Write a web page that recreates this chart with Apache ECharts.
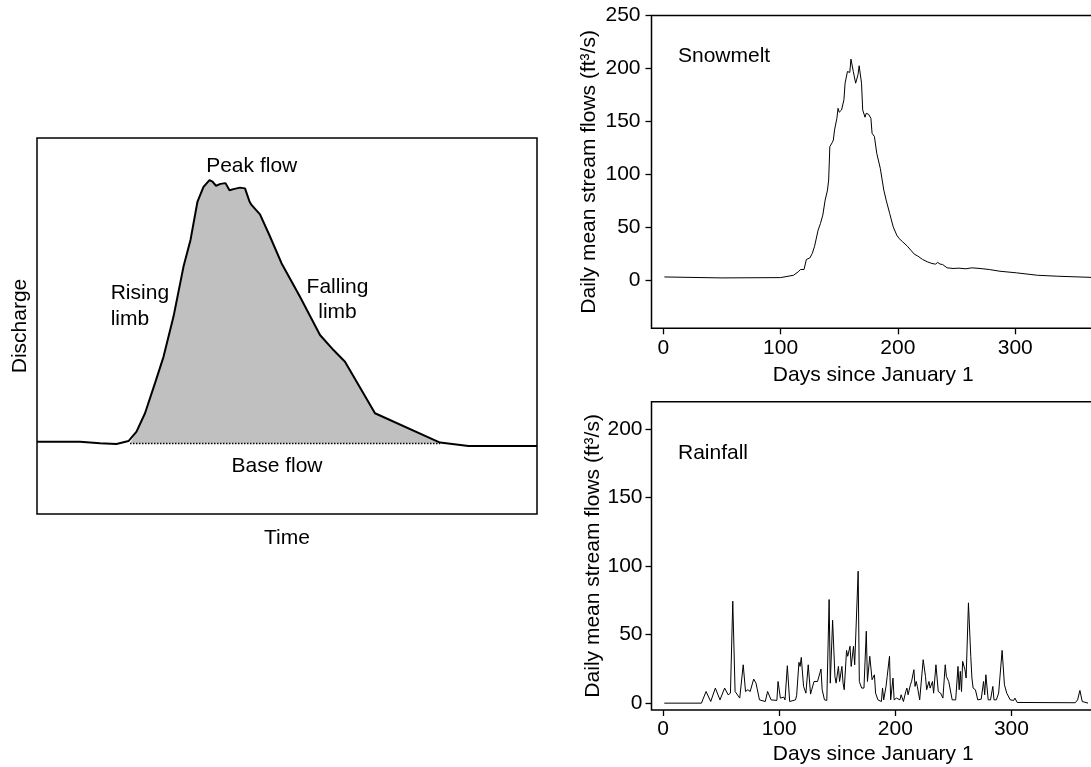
<!DOCTYPE html>
<html>
<head>
<meta charset="utf-8">
<script src="https://cdn.jsdelivr.net/npm/echarts@6.0.0/dist/echarts.min.js"></script>
<style>
  html, body { margin: 0; padding: 0; background: #fff; }
  #chart { width: 1091px; height: 767px; }
</style>
</head>
<body>
<div id="chart"></div>
<script>
// schematic hydrograph (arbitrary units, 0-100 on both axes)
const hydroTime = [0, 8.6, 12.6, 15.9, 18.3, 19.9, 21.6, 23.6, 25.3, 27.3, 29.3, 30.7, 32.1, 33.3, 34.5, 35.1, 35.8, 36.7, 37.7, 38.5, 39.3, 40.6, 41.6, 42.5, 42.9, 44.6, 46.6, 48.9, 52.6, 56.6, 59.3, 61.6, 67.6, 80.6, 86.3, 100]
const hydroDischarge = [19.2, 19.2, 18.8, 18.6, 19.4, 21.9, 26.8, 34.8, 41.8, 52.5, 65.8, 72.9, 83.1, 87.0, 88.8, 88.4, 87.3, 87.8, 88.0, 86.1, 86.4, 86.8, 86.6, 83.1, 82.2, 79.7, 73.8, 66.7, 57.8, 47.6, 43.6, 40.5, 26.8, 19.0, 18.1, 18.1]
const baseFlowTime = [18.6, 80.6]
const baseFlowLevel = 18.75

// snowmelt-driven stream
const snowDays = [1, 50, 100, 111, 115, 117, 120, 122, 125, 127, 129, 132, 134, 136, 138, 140, 141, 142, 144, 145, 146, 148, 149, 150, 152, 154, 155, 157, 158, 159, 160, 161, 162, 164, 165, 166, 167, 169, 170, 172, 173, 175, 177, 178, 180, 182, 185, 188, 190, 193, 196, 199, 201, 204, 208, 211, 214, 217, 221, 225, 229, 232, 234, 236, 238, 242, 247, 252, 258, 263, 270, 278, 287, 301, 319, 336, 365]
const snowFlow = [3.4, 2.5, 2.8, 5, 8.2, 10.4, 10.4, 19.9, 21.4, 25.5, 32.4, 47.5, 53.8, 61.7, 75.9, 85.3, 94.8, 126.3, 130, 132.5, 142, 153, 162.4, 158.7, 160.9, 170.4, 186.1, 197.1, 198.7, 196.2, 208.8, 207.5, 197.1, 186.1, 187.6, 194, 202.5, 186.1, 160.9, 154, 157.7, 156.8, 153, 138.9, 135.7, 119.9, 105.8, 85.3, 75.9, 63.3, 50.7, 42.9, 39.7, 36.6, 32.5, 28.7, 24.9, 23.1, 19.9, 17.7, 16.1, 15.5, 17.1, 15.5, 15.2, 12, 11.4, 11.7, 11.1, 12, 11.4, 10.4, 8.8, 7.3, 5, 4.1, 3]

// rainfall-driven stream
const rainDays = [1, 33, 37, 41, 45, 49, 53, 56, 58, 60, 62, 66, 69, 71, 73, 75, 78, 80, 83, 88, 90, 93, 98, 99, 101, 104, 105, 107, 109, 114, 115, 117, 118, 119, 121, 123, 125, 127, 128, 130, 133, 134, 135, 136, 137, 139, 141, 143, 144, 146, 148, 149, 151, 152, 154, 155, 156, 158, 159, 161, 162, 164, 165, 168, 169, 171, 173, 174, 175, 176, 178, 179, 180, 182, 183, 185, 188, 189, 190, 192, 193, 195, 196, 198, 199, 201, 204, 205, 207, 209, 210, 211, 213, 214, 216, 217, 218, 219, 221, 223, 224, 226, 227, 229, 230, 232, 233, 235, 237, 239, 241, 243, 244, 246, 249, 252, 254, 255, 256, 257, 258, 260, 261, 263, 265, 266, 267, 269, 271, 274, 276, 277, 278, 280, 282, 284, 285, 287, 289, 290, 292, 294, 296, 299, 302, 303, 305, 355, 357, 359, 361, 366]
const rainFlow = [0, 0, 8.5, 1.2, 11, 2.4, 11, 6.1, 7.3, 74.4, 8.5, 3.7, 28, 8.5, 9.8, 8.5, 17.6, 14.6, 2.4, 1.2, 8.5, 2.4, 2, 15.8, 3.7, 4.4, 2.4, 27.3, 1.2, 2.4, 5.4, 29.8, 26.8, 33.4, 12.2, 7.3, 28, 6.6, 9.8, 15.8, 15.8, 14.6, 21.9, 24.9, 9.8, 2.4, 2, 75.6, 14.6, 60.5, 19.5, 14.6, 26.8, 15.8, 26.8, 14.6, 9.8, 38.5, 34.2, 41.5, 26.8, 41.5, 28, 96.3, 15.8, 11, 11, 12.2, 52.5, 15.8, 34.2, 34.7, 17.1, 20.7, 7.3, 2.4, 1.2, 11, 2.4, 12.2, 19.5, 34.2, 2.4, 18.3, 2.4, 3.7, 2.4, 6.1, 1.2, 8.5, 11, 6.1, 13.4, 15.8, 24.4, 12.2, 15.8, 12.2, 2.4, 21.9, 31.7, 19.5, 9.8, 15.8, 11, 15.8, 7.3, 28, 8.5, 7.3, 3.7, 28, 19.5, 15.8, 2.4, 2.4, 26.8, 9.8, 23.2, 8.5, 30.5, 24.4, 18.3, 73.2, 34.2, 18.3, 11, 9.8, 2.4, 2.9, 15.8, 6.1, 20.7, 2.4, 2.4, 12.2, 2.4, 2.4, 7.3, 6.1, 38.5, 13.4, 7.3, 2.4, 2, 3.7, 0.5, 0.3, 2.4, 9.3, 1.2, 0]

const dayTicks = [0, 100, 200, 300]
const snowTicks = [0, 50, 100, 150, 200, 250]
const rainTicks = [0, 50, 100, 150, 200]

const font = '"Liberation Sans", Arial, Helvetica, sans-serif'
const flowName = 'Daily mean stream flows (ft³/s)'

const zip = (xs, ys) => xs.map((x, i) => [x, ys[i]])
const hydroLine = zip(hydroTime, hydroDischarge)
// runoff area: curve part above the base flow line
const hydroFill = [[baseFlowTime[0], baseFlowLevel]]
  .concat(hydroLine.filter(p => p[0] > baseFlowTime[0] && p[0] < baseFlowTime[1]))
  .concat([[baseFlowTime[1], baseFlowLevel]])

// outerBoundsMode none: the right panels run past the canvas edge like the cropped original
const gridBox = { show: true, borderColor: '#000', borderWidth: 1.5, backgroundColor: 'transparent', outerBoundsMode: 'none', containLabel: false }
const txt = { color: '#000', fontSize: 21, fontFamily: font }

function dayAxis(gridIndex, max, gap) {
  return {
    type: 'value', gridIndex, min: -10, max,
    axisLine: { show: false, onZero: false },
    axisTick: { show: true, length: 6, lineStyle: { color: '#000', width: 1.3 }, customValues: dayTicks },
    axisLabel: { ...txt, margin: 9, customValues: dayTicks },
    splitLine: { show: false },
    name: 'Days since January 1', nameLocation: 'middle', nameGap: gap,
    nameTextStyle: txt
  }
}

function flowAxis(gridIndex, min, max, ticks, gap, margin) {
  return {
    type: 'value', gridIndex, min, max,
    axisLine: { show: false, onZero: false },
    axisTick: { show: true, length: 6, lineStyle: { color: '#000', width: 1.3 }, customValues: ticks },
    axisLabel: { ...txt, margin, customValues: ticks },
    splitLine: { show: false },
    name: flowName, nameLocation: 'middle', nameGap: gap,
    nameTextStyle: txt
  }
}

const hiddenAxis = (gridIndex, name, gap) => ({
  type: 'value', gridIndex, min: 0, max: 100,
  axisLine: { show: false, onZero: false }, axisTick: { show: false },
  axisLabel: { show: false }, splitLine: { show: false },
  name, nameLocation: 'middle', nameGap: gap, nameTextStyle: txt
})

const chart = echarts.init(document.getElementById('chart'))

chart.setOption({
  animation: false,
  backgroundColor: '#fff',
  textStyle: { fontFamily: font },
  grid: [
    { ...gridBox, left: 37, top: 138, width: 500, height: 376 },
    { ...gridBox, left: 651.5, top: 15.4, width: 443.5, height: 312.9 },
    { ...gridBox, left: 651.5, top: 401.7, width: 443.5, height: 308.3 }
  ],
  xAxis: [
    hiddenAxis(0, 'Time', 14),
    dayAxis(1, 368, 36),
    dayAxis(2, 372, 34)
  ],
  yAxis: [
    hiddenAxis(0, 'Discharge', 6),
    flowAxis(1, -45, 250, snowTicks, 52, 11),
    flowAxis(2, -5, 220, rainTicks, 47, 9)
  ],
  series: [
    {
      type: 'line', xAxisIndex: 0, yAxisIndex: 0, data: hydroFill,
      symbol: 'none', silent: true, z: 1,
      lineStyle: { opacity: 0 },
      areaStyle: { color: '#c0c0c0', opacity: 1, origin: baseFlowLevel }
    },
    {
      type: 'line', xAxisIndex: 0, yAxisIndex: 0,
      data: [[baseFlowTime[0], baseFlowLevel], [baseFlowTime[1], baseFlowLevel]],
      symbol: 'none', silent: true, z: 2,
      lineStyle: { color: '#000', width: 1.5, type: [1.5, 1.5] }
    },
    {
      type: 'line', xAxisIndex: 0, yAxisIndex: 0, data: hydroLine,
      symbol: 'none', silent: true, z: 3,
      lineStyle: { color: '#000', width: 2 }
    },
    {
      type: 'line', xAxisIndex: 1, yAxisIndex: 1, data: zip(snowDays, snowFlow),
      symbol: 'none', silent: true,
      lineStyle: { color: '#000', width: 1 }
    },
    {
      type: 'line', xAxisIndex: 2, yAxisIndex: 2, data: zip(rainDays, rainFlow),
      symbol: 'none', silent: true,
      lineStyle: { color: '#000', width: 1 }
    }
  ],
  graphic: [
    { type: 'text', x: 251.7, y: 166.7, style: { ...txt, text: 'Peak flow', align: 'center', verticalAlign: 'middle' } },
    { type: 'text', x: 110.7, y: 280, style: { ...txt, text: 'Rising\nlimb', align: 'left', verticalAlign: 'top', lineHeight: 26 } },
    { type: 'text', x: 337.5, y: 274, style: { ...txt, text: 'Falling\nlimb', align: 'center', verticalAlign: 'top', lineHeight: 25.5 } },
    { type: 'text', x: 244.2, y: 339.5, style: { ...txt, text: 'Runoff', align: 'center', verticalAlign: 'middle' } },
    { type: 'text', x: 277, y: 466.2, style: { ...txt, text: 'Base flow', align: 'center', verticalAlign: 'middle' } },
    { type: 'text', x: 678, y: 56, style: { ...txt, text: 'Snowmelt', align: 'left', verticalAlign: 'middle' } },
    { type: 'text', x: 678, y: 453, style: { ...txt, text: 'Rainfall', align: 'left', verticalAlign: 'middle' } }
  ]
})
</script>
</body>
</html>
